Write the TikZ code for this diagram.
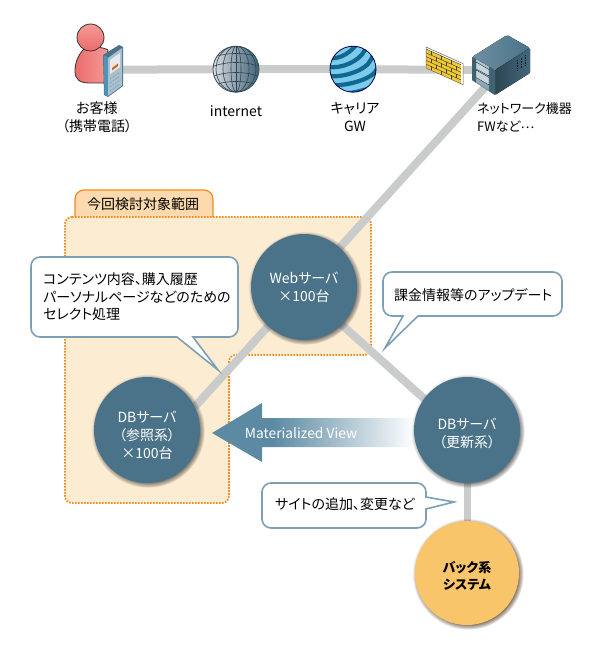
\documentclass[tikz,border=0pt]{standalone}
\usepackage{fontspec}
\setmainfont[RawFeature={+palt}]{Noto Sans CJK JP}
\usepackage{xcolor}
\usetikzlibrary{arrows.meta, positioning, shadows, fadings, calc}

\definecolor{srvblue}{HTML}{4A7389}
\definecolor{linkgray}{HTML}{C9CCCA}
\definecolor{scopefill}{HTML}{FCECD2}
\definecolor{scopeline}{HTML}{F58A1F}
\definecolor{tabfill}{HTML}{FDD9AE}
\definecolor{calloutline}{HTML}{7C9FB4}
\definecolor{backfill}{HTML}{F9C56B}
\definecolor{mvblue}{HTML}{5C8AA3}
\definecolor{gwdark}{HTML}{10688F}
\definecolor{gwlight}{HTML}{7CCBEC}
\definecolor{brick}{HTML}{F4C92E}
\definecolor{skinlight}{HTML}{F59A96}
\definecolor{skindark}{HTML}{EB6C6C}
\definecolor{phoneside}{HTML}{4F93B5}
\definecolor{phonefront}{HTML}{A7C2CE}

\pgfdeclarehorizontalshading{mvfade}{100bp}{color(0bp)=(mvblue); color(40bp)=(mvblue); color(75bp)=(white); color(100bp)=(white)}
\pgfdeclarelayer{scopelayer}
\pgfdeclarelayer{linklayer}
\pgfsetlayers{scopelayer,linklayer,main}

\tikzset{
  link/.style={line width=8pt, linkgray},
  discshadow/.style={general shadow={shadow xshift=1pt, shadow yshift=-1pt, shadow scale=1.07, fill=#1, path fading=circle with fuzzy edge 15 percent}},
  srvnode/.style={circle, fill=srvblue, minimum size=106pt, inner sep=0pt, align=center, text=white, font=\fontsize{14}{18}\selectfont},
  callout/.style={draw=calloutline, line width=1.6pt, fill=white},
  calltext/.style={anchor=west, align=left, inner sep=0pt, font=\fontsize{14}{17.5}\selectfont},
  icontext/.style={align=center, inner sep=0pt, font=\fontsize{14}{18}\selectfont},
  iconspot/.style={inner sep=0pt, minimum width=#1, minimum height=#1},
}

\begin{document}
\begin{tikzpicture}[x=1pt, y=-1pt, >=Stealth]
  \useasboundingbox (0,0) rectangle (600,650);

  % --- Scope area ---
  \begin{pgfonlayer}{scopelayer}
    \draw[draw=scopeline, fill=tabfill, line width=1.2pt, rounded corners=9pt] (75,225) -- (75,190) -- (213,190) -- (213,225);
    \fill[scopefill, rounded corners=7pt] (65,217) -- (371,217) -- (371,355) -- (229,355) -- (229,503) -- (65,503) -- cycle;
    \draw[scopeline, line width=1.8pt, dash pattern=on 1.6pt off 1.4pt, rounded corners=7pt]
      (65,217) -- (371,217) -- (371,355) -- (229,355) -- (229,503) -- (65,503) -- cycle;
  \end{pgfonlayer}
  \node[inner sep=0pt, font=\fontsize{14}{16}\selectfont] (scopetab) at (143,204) {今回検討対象範囲};

  % --- Materialized view arrow ---
  \path[shading=mvfade] (212,433) -- (262,403) -- (262,418) -- (415,418) -- (415,447) -- (262,447) -- (262,462) -- cycle;
  \node[text=white, inner sep=0pt, font=\fontsize{13.8}{16}\selectfont] (mvlabel) at (301,433) {Materialized View};

  % --- Servers ---
  \node[srvnode, discshadow=black!75] (web) at (304,287) {Webサーバ\\×100台};
  \node[srvnode, discshadow=black!75] (dbref) at (147,430) {\rule{0pt}{22pt}DBサーバ\\（参照系）\\×100台};
  \node[srvnode, discshadow=black!75] (dbupd) at (467,430) {\rule{0pt}{18pt}DBサーバ\\（更新系）};
  \node[srvnode, discshadow=black!60!brown, fill=backfill, text=black, minimum size=104pt, font=\bfseries\fontsize{13}{17}\selectfont] (back) at (467,573) {\rule{0pt}{17pt}バック系\\システム};

  % --- Icon spots ---
  \node[iconspot=30pt] (user) at (105,69.7) {};
  \node[iconspot=46pt] (globe) at (236,69.2) {};
  \node[iconspot=46pt] (gw) at (353,69.2) {};
  \node[iconspot=36pt] (wall) at (444,69.7) {};
  \node[iconspot=60pt] (server) at (501,69.7) {};

  % --- Links ---
  \begin{pgfonlayer}{linklayer}
    \draw[link] (user.center) -- (globe.center);
    \draw[link] (globe.center) -- (gw.center);
    \draw[link] (gw.center) -- (wall.center);
    \draw[link] (wall.center) -- (server.center);
    \draw[link] (server.center) -- (web.center);
    \draw[link] (web.center) -- (dbref.26);
    \draw[link] ([yshift=-4pt]web.center) -- ([yshift=-7pt]dbupd.center);
    \draw[link, line width=7pt] (dbupd.center) -- (back.center);
  \end{pgfonlayer}

  % --- Customer with phone ---
  \draw[black!80, line width=0.8pt, left color=skindark, right color=skinlight]
    (84,49) .. controls (78,55) and (75,63) .. (75,71) .. controls (75,80) and (80,83) .. (90,83) -- (104,83) -- (108,50) .. controls (103,47) and (92,46) .. (84,49) -- cycle;
  \draw[black!80, line width=0.8pt, top color=skinlight, bottom color=skindark] (90.5,37.5) circle (13.5);
  \fill[srvblue] (103,55) -- (119,45) -- (123,47) -- (123,86) -- (108,97) -- (104,95) -- cycle;
  \fill[phoneside] (103.5,55) -- (108,57.5) -- (108,96) -- (104.5,94.5) -- cycle;
  \fill[phonefront] (108,58) -- (122,48) -- (122,85.5) -- (108,96) -- cycle;
  \fill[blue!20!gray!15] (110,60) -- (120,53) -- (120,67) -- (110,74) -- cycle;
  \fill[orange!80!black] (112,68) -- (118,63.5) -- (118,66) -- (112,70.5) -- cycle;
  \foreach \kk in {0,1,2,3} {
    \draw[srvblue!70!white, line width=0.6pt, dash pattern=on 2pt off 1pt] (110,{79+\kk*4}) -- (120,{72+\kk*4});
  }

  % --- Internet globe ---
  \begin{scope}
    \draw[srvblue!70!black, line width=0.8pt, left color=blue!10!gray!25, right color=srvblue!85!black] (globe) circle (23);
    \clip (globe) circle (23);
    \foreach \rr in {5,13,20} {
      \draw[srvblue!60!black, line width=0.6pt] (236,69) ellipse ({\rr} and 23);
    }
    \draw[srvblue!60!black, line width=0.6pt] (236,46) -- (236,92);
    \foreach \yy in {-14,-5,5,14} {
      \draw[srvblue!60!black, line width=0.6pt] (212,{69+\yy+3}) .. controls (225,{69+\yy-3}) and (247,{69+\yy-3}) .. (260,{69+\yy+3});
    }
  \end{scope}

  % --- Carrier gateway ---
  \begin{scope}
    \fill[gwlight] (gw) circle (23);
    \clip (gw) circle (23);
    \foreach \dd in {-9,0,9,18,27,36} {
      \draw[gwdark, line width=4.2pt] ({328},{44+\dd+14}) .. controls ({340+\dd*0.2},{44+\dd+16}) and ({352+\dd*0.8},{44+\dd+8}) .. ({358+\dd*0.7},{44+\dd-2}) .. controls ({361+\dd*0.7},{44+\dd-6}) and ({366+\dd*0.7},{38}) .. ({372+\dd*0.6},{38});
    }
  \end{scope}
  \draw[black!70!blue, line width=0.8pt] (gw) circle (23);

  % --- Firewall ---
  \begin{scope}[shift={(426,47)}, yslant=-0.45]
    \fill[brick] (0,0) rectangle (37,21);
    \fill[white] (0,0) rectangle (37,2);
    \fill[white] (35,0) rectangle (37,21);
    \foreach \rw in {0,1,2,3,4} {
      \draw[black!75, line width=0.45pt] (0,{2+\rw*3.8}) -- (35,{2+\rw*3.8});
    }
    \foreach \rw in {0,2,4} \foreach \cl in {5,15,25} {
      \draw[black!75, line width=0.45pt] (\cl,{2+\rw*3.8}) -- (\cl,{2+(\rw+1)*3.8});
    }
    \foreach \rw in {1,3} \foreach \cl in {10,20,30} {
      \draw[black!75, line width=0.45pt] (\cl,{2+\rw*3.8}) -- (\cl,{2+(\rw+1)*3.8});
    }
    \draw[black!60, line width=0.5pt] (0,0) rectangle (37,21);
  \end{scope}

  % --- Network box ---
  \fill[left color=srvblue!80!white, right color=srvblue, rounded corners=1.5pt] (472,57) -- (507,35) -- (530,48) -- (495,70) -- cycle;
  \fill[left color=srvblue!60!black, right color=srvblue!90!black, rounded corners=1pt] (495,70) -- (530,48) -- (530,73) -- (495,95) -- cycle;
  \fill[top color=srvblue!35!white, bottom color=srvblue!75!white, rounded corners=1pt] (472,57) -- (495,70) -- (495,95) -- (472,80) -- cycle;
  \fill[srvblue!85!black] (472,57) -- (476,59) -- (476,82.5) -- (472,80) -- cycle;
  \fill[srvblue!85!black] (489,66.5) -- (495,70) -- (495,95) -- (489,91) -- cycle;
  \draw[srvblue!50!black, fill=srvblue!30!white, line width=0.4pt] (476,62) -- (489,69.5) -- (489,76) -- (476,69) -- cycle;
  \draw[srvblue!50!black, fill=srvblue!30!white, line width=0.4pt] (476,70) -- (489,77.5) -- (489,85) -- (476,77.5) -- cycle;
  \fill[red!70!black] (473.5,62) circle (0.7);
  \fill[green!60!black] (492.5,87) circle (0.8);
  \foreach \sx in {517,521,525} {
    \draw[srvblue!30!black, line width=1pt, dash pattern=on 1pt off 0.6pt] (\sx,{60-(\sx-517)*0.6}) -- (\sx,{70-(\sx-517)*0.6});
  }

  % --- Icon labels ---
  \node[icontext] (userlabel) at (97,117) {お客様\\（携帯電話）};
  \node[icontext] (globelabel) at (236,111) {internet};
  \node[icontext] (gwlabel) at (355,117) {キャリア\\GW};
  \node[icontext, anchor=west, align=left, font=\fontsize{13}{18}\selectfont] (serverlabel) at (477,117) {ネットワーク機器\\FWなど\raisebox{0.35ex}{…}};

  % --- Callouts ---
  \draw[callout, rounded corners=9pt] (31,257) -- (238,257) -- (238,337) [sharp corners] -- (193,337) -- (218,370) -- (177,337) [rounded corners=9pt] -- (31,337) -- cycle;
  \node[calltext] (selecttext) at (43,297) {コンテンツ内容、購入履歴\\パーソナルページなどのための\\セレクト処理};
  \draw[callout, rounded corners=9pt] (383,272) -- (562,272) -- (562,316) [sharp corners] -- (418,316) -- (385,348) -- (403,316) [rounded corners=9pt] -- (383,316) -- cycle;
  \node[calltext] (updatetext) at (394,295) {課金情報等のアップデート};
  \draw[callout, rounded corners=9pt] (262,483) -- (426,483) [sharp corners] -- (426,497) -- (454,502) -- (426,509) [rounded corners=9pt] -- (426,528) -- (262,528) -- cycle;
  \node[calltext] (sitetext) at (275,504) {サイトの追加、変更など};
\end{tikzpicture}
\end{document}
